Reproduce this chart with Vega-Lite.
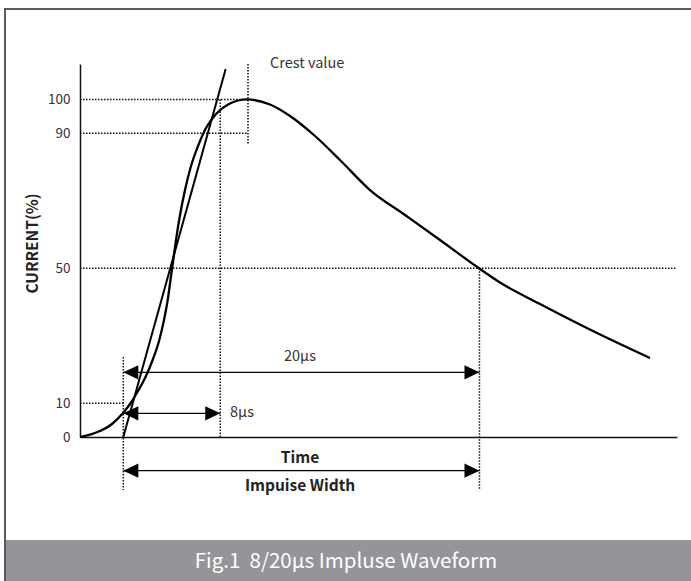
{
  "$schema": "https://vega.github.io/schema/vega-lite/v6.json",
  "autosize": "none",
  "width": 597,
  "height": 373,
  "padding": {"left": 80, "top": 64, "right": 14, "bottom": 144},
  "background": "white",
  "config": {
    "view": {"stroke": null},
    "font": "Noto Sans CJK SC",
    "text": {"font": "Noto Sans CJK SC"}
  },
  "datasets": {
    "frame": [{"x": -12.5, "x2": 104, "y": 126.8, "y2": -46}],
    "footer": [{"x": -12.5, "x2": 104, "y": -30.5, "y2": -46}],
    "curve": [
      {"x": 0, "y": 0}, {"x": 3.33, "y": 1.78}, {"x": 5.33, "y": 3.85}, {"x": 7.17, "y": 7.11},
      {"x": 8.33, "y": 9.78}, {"x": 9.67, "y": 13.63}, {"x": 11.0, "y": 18.07}, {"x": 12.17, "y": 23.11},
      {"x": 13.17, "y": 28.44}, {"x": 14.0, "y": 34.66}, {"x": 14.67, "y": 41.18}, {"x": 15.17, "y": 47.7},
      {"x": 15.5, "y": 51.84}, {"x": 16.0, "y": 58.36}, {"x": 16.67, "y": 65.77}, {"x": 17.5, "y": 73.17},
      {"x": 18.5, "y": 80.28}, {"x": 19.67, "y": 86.21}, {"x": 21.0, "y": 91.54}, {"x": 22.67, "y": 95.69},
      {"x": 24.83, "y": 98.65}, {"x": 27.83, "y": 100}, {"x": 31.67, "y": 98.5}, {"x": 35, "y": 95.1},
      {"x": 39.17, "y": 89.17}, {"x": 43.33, "y": 82.06}, {"x": 48.33, "y": 73.17}, {"x": 54.17, "y": 65.77},
      {"x": 60, "y": 58.36}, {"x": 66.5, "y": 49.98}, {"x": 70, "y": 45.77}, {"x": 76.67, "y": 39.4},
      {"x": 85.83, "y": 31.1}, {"x": 95, "y": 23.4}
    ],
    "tangent": [{"x": 7.22, "y": 0}, {"x": 24.28, "y": 109.0}],
    "dotted": [
      {"x": 0, "x2": 28, "y": 100, "y2": 100},
      {"x": 0, "x2": 28, "y": 90, "y2": 90},
      {"x": 0, "x2": 99.5, "y": 50, "y2": 50},
      {"x": 0, "x2": 7.22, "y": 10, "y2": 10},
      {"x": 7.22, "x2": 7.22, "y": 23.7, "y2": -15.7},
      {"x": 23.38, "x2": 23.38, "y": 100, "y2": 0},
      {"x": 28, "x2": 28, "y": 110.5, "y2": 86.8},
      {"x": 66.58, "x2": 66.58, "y": 50, "y2": -15.5}
    ],
    "arrows": [
      {"x": 7.22, "x2": 66.58, "y": 19.17, "y2": 19.17},
      {"x": 7.22, "x2": 23.38, "y": 7.02, "y2": 7.02},
      {"x": 7.22, "x2": 66.58, "y": -9.98, "y2": -9.98}
    ],
    "headsLeft": [{"x": 7.22, "y": 19.17}, {"x": 7.22, "y": 7.02}, {"x": 7.22, "y": -9.98}],
    "headsRight": [{"x": 66.58, "y": 19.17}, {"x": 23.38, "y": 7.02}, {"x": 66.58, "y": -9.98}],
    "textLeft": [{"x": 31.67, "y": 110.5, "label": "Crest value"}, {"x": 25, "y": 7.1, "label": "8μs"}],
    "textCenter": [{"x": 36.67, "y": 23.7, "label": "20μs"}],
    "textBold": [{"x": 36.67, "y": -6.2, "label": "Time"}, {"x": 36.67, "y": -14.6, "label": "Impuise Width"}],
    "title": [{"x": 44.33, "y": -37.0, "label": "Fig.1 \u00a08/20μs Impluse Waveform"}]
  },
  "encoding": {
    "x": {
      "field": "x", "type": "quantitative",
      "scale": {"domain": [0, 99.5], "nice": false, "zero": false},
      "axis": {"title": null, "labels": false, "ticks": false, "grid": false, "domainColor": "#111", "domainWidth": 1.5}
    },
    "y": {
      "field": "y", "type": "quantitative",
      "scale": {"domain": [0, 110.5], "nice": false, "zero": false},
      "axis": {
        "title": "CURRENT(%)", "values": [0, 10, 50, 90, 100], "ticks": false, "grid": false,
        "domainColor": "#111", "domainWidth": 1.5, "labelPadding": 10, "labelFontSize": 13.5,
        "labelColor": "#333", "labelFont": "Noto Sans CJK SC",
        "titleFont": "Noto Sans CJK SC", "titleFontSize": 15.5, "titleFontWeight": "bold", "titleColor": "#222",
        "titleX": -40, "titleY": 179
      }
    }
  },
  "layer": [
    {
      "data": {"name": "footer"},
      "mark": {"type": "rect", "fill": "#939598", "stroke": null},
      "encoding": {"x2": {"field": "x2"}, "y2": {"field": "y2"}}
    },
    {
      "data": {"name": "frame"},
      "mark": {"type": "rect", "fill": null, "filled": false, "stroke": "#5a5a5a", "strokeWidth": 2},
      "encoding": {"x2": {"field": "x2"}, "y2": {"field": "y2"}}
    },
    {
      "data": {"name": "dotted"},
      "mark": {"type": "rule", "color": "#111", "strokeWidth": 1.5, "strokeDash": [1.5, 1.5]},
      "encoding": {"x2": {"field": "x2"}, "y2": {"field": "y2"}}
    },
    {
      "data": {"name": "curve"},
      "mark": {"type": "line", "color": "#000", "strokeWidth": 2.3, "interpolate": "monotone"},
      "encoding": {}
    },
    {
      "data": {"name": "tangent"},
      "mark": {"type": "line", "color": "#000", "strokeWidth": 2},
      "encoding": {}
    },
    {
      "data": {"name": "arrows"},
      "mark": {"type": "rule", "color": "#000", "strokeWidth": 1.3},
      "encoding": {"x2": {"field": "x2"}, "y2": {"field": "y2"}}
    },
    {
      "data": {"name": "headsLeft"},
      "mark": {"type": "point", "shape": "M0,0L2,-0.95L2,0.95Z", "size": 225, "filled": true, "color": "#000", "opacity": 1, "strokeWidth": 0},
      "encoding": {}
    },
    {
      "data": {"name": "headsRight"},
      "mark": {"type": "point", "shape": "M0,0L-2,-0.95L-2,0.95Z", "size": 225, "filled": true, "color": "#000", "opacity": 1, "strokeWidth": 0},
      "encoding": {}
    },
    {
      "data": {"name": "textLeft"},
      "mark": {"type": "text", "align": "left", "baseline": "middle", "fontSize": 14.5, "color": "#333"},
      "encoding": {"text": {"field": "label"}}
    },
    {
      "data": {"name": "textCenter"},
      "mark": {"type": "text", "align": "center", "baseline": "middle", "fontSize": 14.5, "color": "#333"},
      "encoding": {"text": {"field": "label"}}
    },
    {
      "data": {"name": "textBold"},
      "mark": {"type": "text", "align": "center", "baseline": "middle", "fontSize": 15.5, "fontWeight": "bold", "color": "#222"},
      "encoding": {"text": {"field": "label"}}
    },
    {
      "data": {"name": "title"},
      "mark": {"type": "text", "align": "center", "baseline": "middle", "fontSize": 20.5, "color": "#ffffff"},
      "encoding": {"text": {"field": "label"}}
    }
  ]
}
